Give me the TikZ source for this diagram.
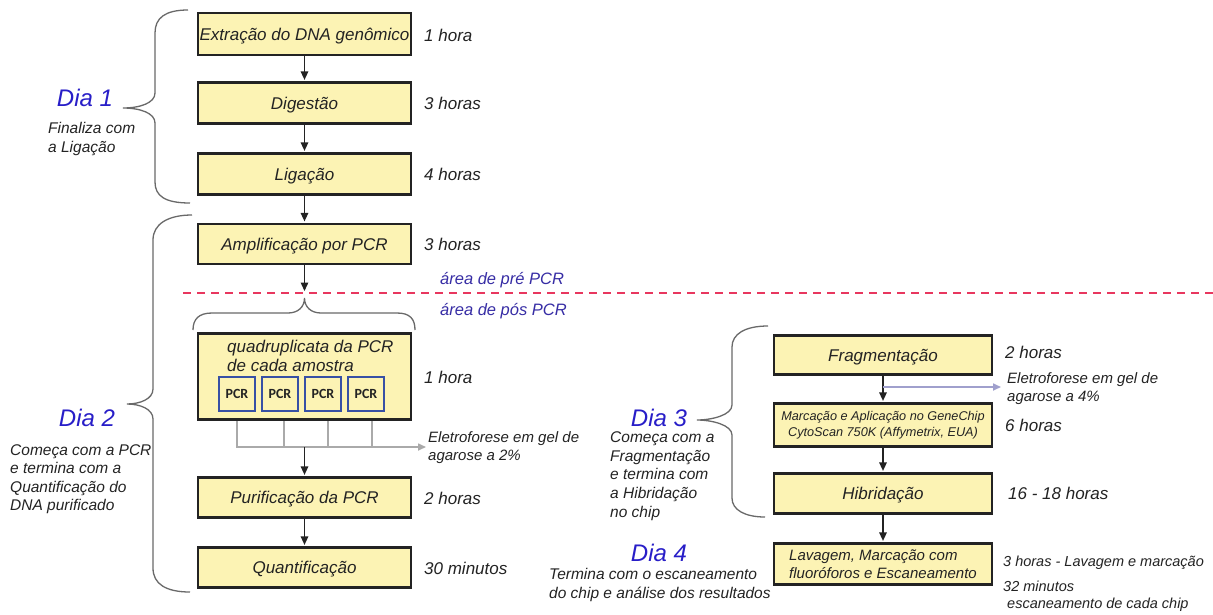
\documentclass[tikz,border=0pt]{standalone}
\usepackage{fontspec}
\setmainfont{Liberation Sans}
\newfontfamily\calibrifont{Carlito}
\usetikzlibrary{arrows.meta,calc}
\definecolor{boxfill}{RGB}{252,243,180}
\definecolor{boxline}{RGB}{35,35,35}
\definecolor{txt}{RGB}{35,35,35}
\definecolor{diablue}{RGB}{40,30,200}
\definecolor{areablue}{RGB}{55,45,165}
\definecolor{bracegray}{RGB}{105,105,105}
\definecolor{connGray}{RGB}{170,170,170}
\definecolor{lilac}{RGB}{160,160,205}
\definecolor{pcrblue}{RGB}{55,80,165}
\definecolor{reddash}{RGB}{232,55,95}
\pgfdeclarelayer{bg}
\pgfsetlayers{bg,main}
\begin{document}
\begin{tikzpicture}[x=1pt,y=-1pt,
 stepbox/.style={draw=boxline, fill=boxfill, line width=2.6pt, minimum width=213pt, inner sep=0pt, font=\fontsize{17}{20}\selectfont\itshape, text=txt},
 oneline/.style={text height=12pt, text depth=0pt},
 rbox/.style={stepbox, minimum width=218pt},
 pcrbox/.style={draw=pcrblue, fill=boxfill, line width=2.2pt, minimum width=36pt, minimum height=34pt, inner sep=0pt, font=\calibrifont\bfseries\fontsize{14}{16}\selectfont, text=txt},
 timelbl/.style={anchor=west, inner sep=0pt, font=\fontsize{17}{20}\selectfont\itshape, text=txt},
 note/.style={anchor=west, inner sep=0pt, align=left, font=\fontsize{15.5}{18.5}\selectfont\itshape, text=txt},
 dia/.style={inner sep=0pt, font=\fontsize{24}{28}\selectfont\itshape, text=diablue},
 area/.style={anchor=west, inner sep=0pt, font=\fontsize{16.5}{19}\selectfont\itshape, text=areablue},
 arr/.style={draw=boxline, line width=1.4pt, shorten >=1.3pt, -{Triangle[length=8.5pt,width=7.5pt]}},
 grayline/.style={draw=connGray, line width=1.6pt},
 brace/.style={draw=bracegray, line width=1.3pt},
]
\useasboundingbox (0,0) rectangle (1213,614);

% ---- left column boxes
\node[stepbox, oneline, minimum height=42pt] (ext) at (304.5,34) {Extração do DNA genômico};
\node[stepbox, oneline, minimum height=41pt] (dig) at (304.5,103) {Digestão};
\node[stepbox, oneline, minimum height=41pt] (lig) at (304.5,174) {Ligação};
\node[stepbox, oneline, minimum height=40pt] (amp) at (304.5,244) {Amplificação por PCR};
\node[stepbox, minimum height=86pt] (quad) at (304.5,376.5) {};
\node[anchor=west, inner sep=0pt, align=left, font=\fontsize{17}{19}\selectfont\itshape, text=txt] (quadtxt) at (227,356) {quadruplicata da PCR\\de cada amostra};
\node[pcrbox] (p1) at (237,394) {PCR};
\node[pcrbox] (p2) at (280,394) {PCR};
\node[pcrbox] (p3) at (323,394) {PCR};
\node[pcrbox] (p4) at (366,394) {PCR};
\node[stepbox, oneline, minimum height=40pt] (pur) at (304.5,497.5) {Purificação da PCR};
\node[stepbox, oneline, minimum height=40pt] (qnt) at (304.5,567.5) {Quantificação};

% ---- right column boxes
\node[rbox, oneline, minimum height=39pt] (frag) at (883,355) {Fragmentação};
\node[rbox, minimum height=43pt, align=center, font=\fontsize{12.7}{16.5}\selectfont\itshape] (marc) at (883,425) {Marcação e Aplicação no GeneChip\\CytoScan 750K (Affymetrix, EUA)};
\node[rbox, oneline, minimum height=40pt] (hib) at (883,493.5) {Hibridação};
\node[rbox, minimum height=41pt, align=left, font=\fontsize{15}{18.5}\selectfont\itshape] (lav) at (883,564) {Lavagem, Marcação com\\fluoróforos e Escaneamento};

% ---- time labels
\node[timelbl] (t1) at (424,35) {1 hora};
\node[timelbl] (t2) at (424,103) {3 horas};
\node[timelbl] (t3) at (424,174) {4 horas};
\node[timelbl] (t4) at (424,244) {3 horas};
\node[timelbl] (t5) at (424,377) {1 hora};
\node[timelbl] (t6) at (424,498) {2 horas};
\node[timelbl] (t7) at (424,568) {30 minutos};
\node[timelbl] (t8) at (1005,352) {2 horas};
\node[timelbl] (t9) at (1005,425) {6 horas};
\node[timelbl] (t10) at (1008,493) {16 - 18 horas};
\node[timelbl, font=\fontsize{14.5}{17}\selectfont\itshape] (t11) at (1003,563) {3 horas - Lavagem e marcação};
\node[note, font=\fontsize{14.5}{17.5}\selectfont\itshape] (t12) at (1003,596) {32 minutos\\\hspace*{4pt}escaneamento de cada chip};

% ---- area labels
\node[area] (pre) at (440,280) {área de pré PCR};
\node[area] (pos) at (440,311) {área de pós PCR};

% ---- electrophoresis notes
\node[note, font=\fontsize{15}{18}\selectfont\itshape] (el2) at (428,448) {Eletroforese em gel de\\agarose a 2\%};
\node[note, font=\fontsize{15}{18}\selectfont\itshape] (el4) at (1007,389) {Eletroforese em gel de\\agarose a 4\%};

% ---- day labels
\node[dia] (d1) at (85,98) {Dia 1};
\node[note] (d1n) at (48,139) {Finaliza com\\a Ligação};
\node[dia] (d2) at (87,418) {Dia 2};
\node[note] (d2n) at (10,479) {Começa com a PCR\\e termina com a\\Quantificação do\\DNA purificado};
\node[dia] (d3) at (659,418) {Dia 3};
\node[note, font=\fontsize{15.5}{18.8}\selectfont\itshape] (d3n) at (610,476) {Começa com a\\Fragmentação\\e termina com\\a Hibridação\\no chip};
\node[dia] (d4) at (659,553) {Dia 4};
\node[note] (d4n) at (549,585) {Termina com o escaneamento\\do chip e análise dos resultados};

% ---- coordinates
\coordinate (ptip) at (304.5,291);
\coordinate (ds) at (183,293);
\coordinate (de) at (1213,293);
\coordinate (g1) at (237,447);
\coordinate (g2) at (284,447);
\coordinate (g3) at (328,447);
\coordinate (g4) at (372,447);
\coordinate (gmid) at (304.5,447);
\coordinate (gend) at (426,447);
\coordinate (fm) at (883,387);
\coordinate (fe) at (1001,387);

\begin{pgfonlayer}{bg}
\fill[white] (0,0) rectangle (1213,614);
\draw[arr] (ext.south) -- (dig.north);
\draw[arr] (dig.south) -- (lig.north);
\draw[arr] (lig.south) -- (amp.north);
\draw[arr, shorten >=0pt] (amp.south) -- (ptip);
\draw[grayline] (quad.south -| g2) -- (g2);
\draw[grayline] (quad.south -| g3) -- (g3);
\draw[grayline] (quad.south -| g4) -- (g4);
\draw[grayline, -{Triangle[length=8pt,width=7pt]}] (quad.south -| g1) -- (g1) -- (gend);
\draw[arr] (gmid) -- (pur.north);
\draw[arr] (pur.south) -- (qnt.north);
\draw[arr] (frag.south) -- (marc.north);
\draw[arr] (marc.south) -- (hib.north);
\draw[arr] (hib.south) -- (lav.north);
\draw[draw=lilac, line width=1.6pt, -{Triangle[length=8pt,width=7pt]}] (fm) -- (fe);
\end{pgfonlayer}

% ---- red dashed separator
\draw[draw=reddash, line width=1.5pt, dash pattern=on 8pt off 6pt] (ds) -- (de);

% ---- braces
% Dia 1
\draw[brace] (188,10) .. controls (165,10) and (155,18) .. (155,33) -- (155,93)
  .. controls (155,103) and (140,108) .. (123,108)
  .. controls (140,108) and (155,113) .. (155,123) -- (155,182)
  .. controls (155,196) and (165,203) .. (190,203);
% Dia 2
\draw[brace] (192,215) .. controls (168,215) and (153,224) .. (153,240) -- (153,389)
  .. controls (153,399) and (140,404) .. (127,404)
  .. controls (140,404) and (153,409) .. (153,419) -- (153,568)
  .. controls (153,584) and (166,592) .. (190,592);
% Dia 3
\draw[brace] (768,326) .. controls (745,326) and (732,334) .. (732,347) -- (732,405)
  .. controls (732,415) and (712,420) .. (697,420)
  .. controls (712,420) and (732,425) .. (732,435) -- (732,498)
  .. controls (732,510) and (745,517) .. (765,517);
% horizontal brace below separator
\draw[brace] (193,330) .. controls (193,319) and (199,313) .. (212,313) -- (288,313)
  .. controls (298,313) and (304.5,307) .. (304.5,298)
  .. controls (304.5,307) and (311,313) .. (321,313) -- (397,313)
  .. controls (410,313) and (415,319) .. (415,330);
\end{tikzpicture}
\end{document}
